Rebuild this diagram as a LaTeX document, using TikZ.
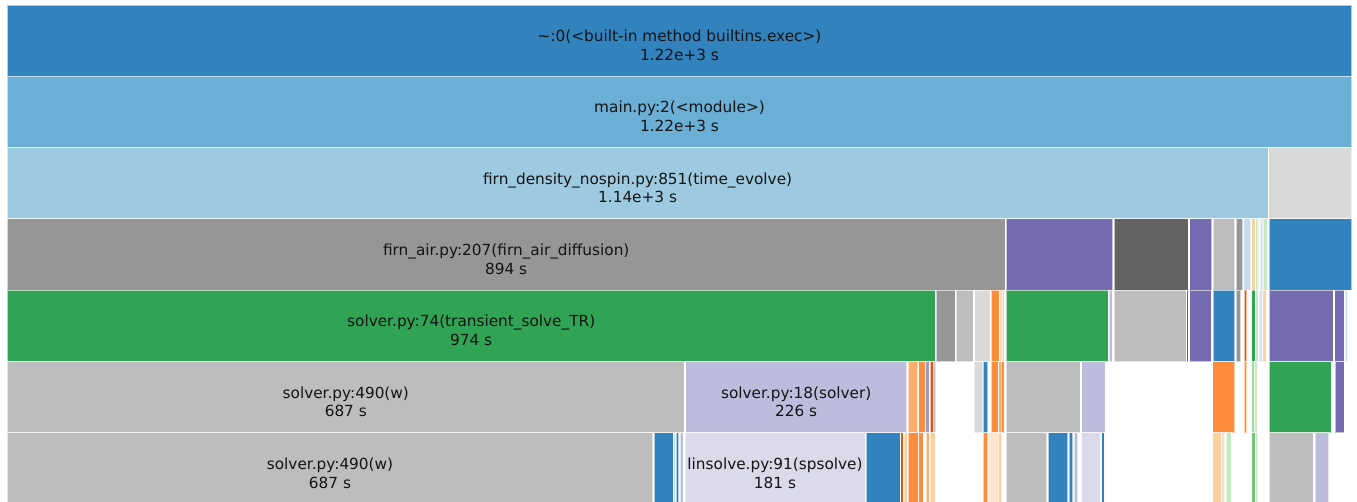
\documentclass[tikz,border=0pt]{standalone}
\usepackage{fontspec}
\setmainfont{DejaVu Sans}
\definecolor{cA}{HTML}{3182BD}
\definecolor{cB}{HTML}{6BAED6}
\definecolor{cC}{HTML}{9ECAE1}
\definecolor{cD}{HTML}{C6DBEF}
\definecolor{oA}{HTML}{E6550D}
\definecolor{oB}{HTML}{FD8D3C}
\definecolor{oC}{HTML}{FDAE6B}
\definecolor{oD}{HTML}{FDD0A2}
\definecolor{oE}{HTML}{FEE6CE}
\definecolor{gA}{HTML}{31A354}
\definecolor{gB}{HTML}{74C476}
\definecolor{gC}{HTML}{A1D99B}
\definecolor{gD}{HTML}{C7E9C0}
\definecolor{pA}{HTML}{756BB1}
\definecolor{pB}{HTML}{9E9AC8}
\definecolor{pC}{HTML}{BCBDDC}
\definecolor{pD}{HTML}{DADAEB}
\definecolor{kA}{HTML}{636363}
\definecolor{kB}{HTML}{969696}
\definecolor{kC}{HTML}{BDBDBD}
\definecolor{kD}{HTML}{D9D9D9}
\newcommand\frbox[4]{\path[frame, fill=#1] ({#2},{5+(#4-1)*71.3}) rectangle ({#3},{5+#4*71.3});}
\newcommand\fglab[5]{%
  \node[lbl] (#1a) at ({#2},{5+(#3-1)*71.3+36.6}) {#4};
  \node[lbl] (#1b) at ({#2},{5+(#3-1)*71.3+55.2}) {#5};}
\begin{document}
\begin{tikzpicture}[x=1pt,y=-1pt,
  frame/.style={draw=white, draw opacity=.6, line width=1pt},
  lbl/.style={anchor=base, inner sep=0pt, font=\fontsize{15.3}{18}\selectfont, text=black!92}]
\useasboundingbox (0,0) rectangle (1357,501);
\clip (0,0) rectangle (1357,501);
% row 1-3
\frbox{cA}{7.3}{1351.7}{1}
\frbox{cB}{7.3}{1351.7}{2}
\frbox{cC}{7.3}{1268}{3}
\frbox{kD}{1268.7}{1351.7}{3}
% row 4
\frbox{kB}{7.3}{1005}{4}
\frbox{pA}{1006}{1112.7}{4}
\frbox{kA}{1114.3}{1188.3}{4}
\frbox{pA}{1189.5}{1211.7}{4}
\frbox{kC}{1213}{1234.5}{4}
\frbox{kB}{1236}{1242.7}{4}
\frbox{cD}{1243.7}{1250.7}{4}
\frbox{oD}{1251.7}{1255}{4}
\frbox{gD}{1255.7}{1259}{4}
\frbox{gC}{1257}{1258.3}{4}
\frbox{pD}{1260}{1262.7}{4}
\frbox{gD}{1263.3}{1267.3}{4}
\frbox{cA}{1269}{1351.7}{4}
% row 5
\frbox{gA}{7.3}{935}{5}
\frbox{kB}{936.3}{955.3}{5}
\frbox{kC}{956.3}{973.3}{5}
\frbox{kD}{974.7}{990}{5}
\frbox{oB}{991.3}{999.3}{5}
\frbox{oC}{1000}{1001.7}{5}
\frbox{oD}{1002.3}{1004}{5}
\frbox{gA}{1006}{1108.3}{5}
\frbox{pC}{1109.3}{1112}{5}
\frbox{kC}{1114.3}{1186}{5}
\frbox{kA}{1186.7}{1188.3}{5}
\frbox{pA}{1189.5}{1211}{5}
\frbox{cA}{1213}{1234.5}{5}
\frbox{kB}{1236}{1240.7}{5}
\frbox{oA}{1244}{1246.7}{5}
\frbox{gA}{1251.7}{1255}{5}
\frbox{gD}{1255.7}{1258}{5}
\frbox{pD}{1259}{1262}{5}
\frbox{oD}{1262.7}{1266}{5}
\frbox{pA}{1269}{1333.3}{5}
\frbox{pA}{1334.7}{1344.3}{5}
\frbox{cD}{1345}{1347.3}{5}
% row 6
\frbox{kC}{7.3}{684.3}{6}
\frbox{pC}{685.7}{906.7}{6}
\frbox{oC}{908.3}{917.8}{6}
\frbox{oB}{918.5}{925}{6}
\frbox{pB}{925.7}{929.3}{6}
\frbox{oA}{930}{933.3}{6}
\frbox{pC}{933.3}{935.7}{6}
\frbox{kD}{974.3}{982.7}{6}
\frbox{cA}{983.3}{987.5}{6}
\frbox{oB}{991.3}{998.3}{6}
\frbox{oC}{998.5}{1001}{6}
\frbox{oB}{1001.3}{1004}{6}
\frbox{kC}{1006}{1080.3}{6}
\frbox{pC}{1081.7}{1105.3}{6}
\frbox{oB}{1212.7}{1234.5}{6}
\frbox{oB}{1244}{1246.7}{6}
\frbox{gC}{1251.5}{1254.5}{6}
\frbox{gD}{1254.5}{1257.3}{6}
\frbox{gA}{1269}{1331.3}{6}
\frbox{pA}{1335}{1344}{6}
% row 7
\frbox{kC}{7.3}{652.7}{7}
\frbox{cA}{654}{673.3}{7}
\frbox{cB}{674}{675.3}{7}
\frbox{cA}{676}{678.7}{7}
\frbox{pC}{680}{683.3}{7}
\frbox{pD}{685}{865}{7}
\frbox{cA}{866}{900}{7}
\frbox{oA}{900.5}{903.3}{7}
\frbox{oD}{904}{907}{7}
\frbox{oB}{908.3}{918}{7}
\frbox{oB}{918.7}{923.3}{7}
\frbox{oC}{926}{929.3}{7}
\frbox{oD}{930}{935}{7}
\frbox{oB}{983.3}{987.5}{7}
\frbox{oE}{988}{998}{7}
\frbox{oD}{998}{1001.7}{7}
\frbox{kC}{1006}{1046.7}{7}
\frbox{cA}{1048.3}{1067.7}{7}
\frbox{cA}{1069}{1072.7}{7}
\frbox{pC}{1074}{1077.7}{7}
\frbox{pD}{1081.7}{1100}{7}
\frbox{cA}{1101.7}{1104.3}{7}
\frbox{oD}{1212.7}{1221}{7}
\frbox{oC}{1222}{1223.7}{7}
\frbox{cD}{1224}{1225.3}{7}
\frbox{gD}{1226}{1231}{7}
\frbox{gB}{1251.5}{1255.3}{7}
\frbox{gD}{1255.5}{1257.5}{7}
\frbox{kC}{1269}{1313.3}{7}
\frbox{pC}{1315}{1328.7}{7}
% labels
\fglab{exec}{679.5}{1}{\textasciitilde:0(<built-in method builtins.exec>)}{1.22e+3 s}
\fglab{main}{679.5}{2}{main.py:2(<module>)}{1.22e+3 s}
\fglab{time}{637.6}{3}{firn\_density\_nospin.py:851(time\_evolve)}{1.14e+3 s}
\fglab{diff}{506.2}{4}{firn\_air.py:207(firn\_air\_diffusion)}{894 s}
\fglab{trans}{471.2}{5}{solver.py:74(transient\_solve\_TR)}{974 s}
\fglab{wone}{345.8}{6}{solver.py:490(w)}{687 s}
\fglab{solv}{796.2}{6}{solver.py:18(solver)}{226 s}
\fglab{wtwo}{330}{7}{solver.py:490(w)}{687 s}
\fglab{spsolve}{775}{7}{linsolve.py:91(spsolve)}{181 s}
\end{tikzpicture}
\end{document}
